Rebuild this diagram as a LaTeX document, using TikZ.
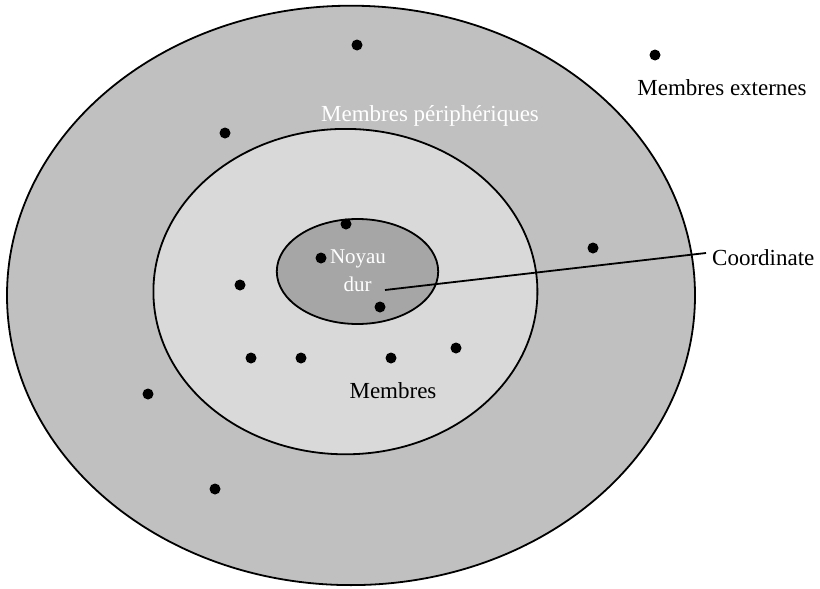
\documentclass[tikz,border=0pt]{standalone}
\usepackage{fontspec}
\setmainfont{Liberation Serif}
\definecolor{outerg}{HTML}{C0C0C0}
\definecolor{midg}{HTML}{D9D9D9}
\definecolor{coreg}{HTML}{A6A6A6}
\begin{document}
\begin{tikzpicture}[x=1pt,y=-1pt,
  ring/.style={draw=black,line width=1.8pt},
  dot/.style={circle,fill=black,inner sep=0pt,minimum size=11pt},
  lbl/.style={font=\fontsize{23}{26}\selectfont,inner sep=0pt,anchor=base},
  wlbl/.style={lbl,text=white},
  lbl21/.style={font=\fontsize{21}{24}\selectfont,inner sep=0pt,anchor=base,text=white}]
\useasboundingbox (0,0) rectangle (820,589);
\fill[white] (0,0) rectangle (820,589);
\draw[ring,fill=outerg] (351,295.4) ellipse [x radius=344,y radius=289.7];
\draw[ring,fill=midg] (345.4,291.6) ellipse [x radius=192,y radius=162.7];
\draw[ring,fill=coreg] (357.5,271.5) ellipse [x radius=80.7,y radius=52.5];
% dots
\node[dot] (d1) at (357,45) {};
\node[dot] (d2) at (655,55) {};
\node[dot] (d3) at (225,133) {};
\node[dot] (d4) at (346,224) {};
\node[dot] (d5) at (321,258) {};
\node[dot] (d6) at (240,285) {};
\node[dot] (d7) at (380,307) {};
\node[dot] (d8) at (593,248) {};
\node[dot] (d9) at (251,358) {};
\node[dot] (d10) at (301,358) {};
\node[dot] (d11) at (391,358) {};
\node[dot] (d12) at (456,348) {};
\node[dot] (d13) at (148,394) {};
\node[dot] (d14) at (215,489) {};
% labels
\node[lbl] (ext) at (722,95) {Membres externes};
\node[wlbl] (peri) at (430,121.5) {Membres périphériques};
\node[lbl21] (noyau) at (358,263) {Noyau};
\node[lbl21] (dur) at (357.5,291.5) {dur};
\node[lbl] (memb) at (393,398.5) {Membres};
\node[lbl,anchor=base west] (coordlbl) at (712,265) {Coordinate};
\coordinate (cpt) at (385,290);
\coordinate (cend) at (706,253);
\draw[line width=1.8pt] (cpt) -- (cend);
\end{tikzpicture}
\end{document}
